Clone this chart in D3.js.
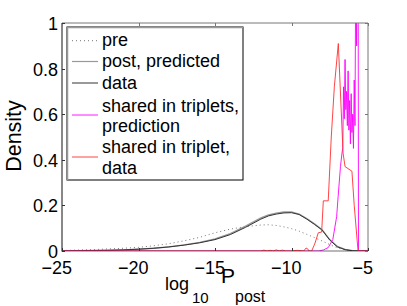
<!DOCTYPE html>
<html><head><meta charset="utf-8">
<script src="https://cdn.jsdelivr.net/npm/d3@7"></script>
<style>body{margin:0;background:#fff}svg{display:block}text{font-family:"Liberation Sans",Arial,sans-serif;fill:#000}</style>
</head><body>
<svg id="c" width="407" height="306"></svg>
<script>
// ---- data ----
const xTicks = [-25, -20, -15, -10, -5];
const yTicks = [0, 0.2, 0.4, 0.6, 0.8, 1];
const legendLabels = [["pre"], ["post, predicted"], ["data"], ["shared in triplets,", "prediction"], ["shared in triplet,", "data"]];

const smoothX = [-25,-24,-23,-22,-21,-20,-19,-18,-17,-16,-15,-14,-13,-12,-11.5,-11,-10.5,-10,-9.5,-9,-8.5,-8,-7.5,-7,-6.5,-6,-5.5,-5];
const preY    = [0.002,0.004,0.006,0.009,0.012,0.016,0.023,0.032,0.045,0.060,0.080,0.096,0.107,0.114,0.115,0.112,0.106,0.098,0.087,0.073,0.059,0.044,0.028,0.014,0.005,0.001,0,0];
const postY   = [0,0.001,0.002,0.003,0.005,0.008,0.012,0.018,0.027,0.038,0.053,0.076,0.109,0.145,0.158,0.166,0.171,0.171,0.162,0.142,0.119,0.093,0.050,0.020,0.007,0.001,0,0];
const dataY   = [0,0.001,0.002,0.003,0.005,0.008,0.012,0.018,0.026,0.036,0.050,0.072,0.104,0.140,0.154,0.162,0.167,0.168,0.160,0.140,0.117,0.092,0.048,0.018,0.006,0.001,0,0];

const redX = [-25,-12,-11.8,-11.6,-11.4,-11.2,-11,-10.8,-10.6,-10.4,-10,-9.6,-9.2,-9.05,-8.95,-8.85,-8.68,-8.46,-8.25,-8.03,-7.92,-7.6,-7.4,-7.2,-6.94,-6.63,-6.5,-6.05,-5.9,-5.65,-5];
const redY = [0,0,0.004,0,0.003,0,0.005,0,0.004,0,0,0.003,0,0.013,0.010,0,0,0.035,0.08,0.083,0.22,0.22,0.50,0.72,0.91,0.43,0.37,0.35,0.20,0,0];

const magX = [-25,-8.2,-7.9,-7.6,-7.3,-7.05,-6.95,-6.8,-6.7,-6.65,-6.6,-6.55,-6.5,-6.45,-6.4,-6.35,-6.3,-6.25,-6.2,-6.15,-6.1,-6.05,-6.0,-5.95,-5.9,-5.85,-5.8,-5.75,-5.72,-5.68,-5.65,-5.62,-5];
const magY = [0,0,0.005,0.015,0.05,0.15,0.24,0.37,0.43,0.45,0.72,0.58,0.84,0.62,0.70,0.55,0.79,0.53,0.66,0.47,0.69,0.52,0.60,0.45,0.75,0.55,1.3,0.9,1.5,1.2,1.6,0,0];

// ---- layout ----
const L = 62, R = 368, T = 23, B = 251;
const x = d3.scaleLinear().domain([-25, -5]).range([L, R]);
const y = d3.scaleLinear().domain([0, 1]).range([B, T]);
const svg = d3.select("#c");

svg.append("defs").append("clipPath").attr("id","clip")
  .append("rect").attr("x",L).attr("y",T).attr("width",R-L).attr("height",B-T);

const line = d3.line().x(d=>x(d[0])).y(d=>y(d[1]));
const g = svg.append("g").attr("clip-path","url(#clip)");
function draw(xs, ys, color, w, dash){
  const p = g.append("path").datum(xs.map((v,i)=>[v,ys[i]]))
    .attr("d", line).attr("fill","none").attr("stroke",color).attr("stroke-width",w);
  if (dash) p.attr("stroke-dasharray", dash);
}
draw(smoothX, preY, "#777", 1, "1,3");
draw(smoothX, postY, "#999", 1.4);
draw(smoothX, dataY, "#333", 1);
draw(magX, magY, "#ff00ff", 0.9);
draw(redX, redY, "#ff3030", 0.9);

// frame
svg.append("line").attr("x1",L).attr("x2",R).attr("y1",T).attr("y2",T).attr("stroke","#777");
svg.append("line").attr("x1",R).attr("x2",R).attr("y1",T).attr("y2",B).attr("stroke","#777");
svg.append("line").attr("x1",L).attr("x2",L).attr("y1",T).attr("y2",B+0.5).attr("stroke","#111");
svg.append("line").attr("x1",L).attr("x2",R).attr("y1",B).attr("y2",B).attr("stroke","#111").attr("stroke-width",0.6);

// ticks
const ax = svg.append("g");
xTicks.forEach(t=>{
  const px = Math.round(x(t))+0.5;
  ax.append("line").attr("x1",px).attr("x2",px).attr("y1",B).attr("y2",B-3).attr("stroke","#333");
  ax.append("line").attr("x1",px).attr("x2",px).attr("y1",T).attr("y2",T+3).attr("stroke","#777");
  const digits = String(Math.abs(t)).length;
  ax.append("text").attr("x", x(t) + digits*5).attr("y", 274).attr("text-anchor","end")
    .attr("font-size",18).text("\u2212" + Math.abs(t));
});
yTicks.forEach(t=>{
  const py = Math.round(y(t))+0.5;
  ax.append("line").attr("x1",L).attr("x2",L+3).attr("y1",py).attr("y2",py).attr("stroke","#333");
  ax.append("line").attr("x1",R).attr("x2",R-3).attr("y1",py).attr("y2",py).attr("stroke","#777");
  ax.append("text").attr("x",58).attr("y",y(t)+7).attr("text-anchor","end")
    .attr("font-size",18).text(d3.format("~g")(t));
});

// axis labels
svg.append("text").attr("transform","translate(20.5,136) rotate(-90)").attr("text-anchor","middle")
  .attr("font-size",21.5).text("Density");
const xl = svg.append("text");
xl.append("tspan").attr("x",165).attr("y",290).attr("font-size",18).text("log");
xl.append("tspan").attr("x",192).attr("y",303).attr("font-size",15).text("10");
xl.append("tspan").attr("x",221).attr("y",283).attr("font-size",21).text("P");
xl.append("tspan").attr("x",235).attr("y",302).attr("font-size",16).text("post");

// legend
const lg = svg.append("g");
lg.append("rect").attr("x",67).attr("y",27).attr("width",176).attr("height",153)
  .attr("fill","#fff").attr("stroke","#000").attr("stroke-width",1);
lg.append("path").attr("d","M67.5,180 L67.5,27.5 L243,27.5").attr("fill","none").attr("stroke","#999").attr("stroke-width",1.5);
const styles = [
  {c:"#777", w:1, d:"1,3"},
  {c:"#999", w:1.2},
  {c:"#333", w:1},
  {c:"#ff00ff", w:0.9},
  {c:"#ff3030", w:0.9}
];
const lineY = [40.7, 61.5, 83, 115, 157];
const baseY = [[45.7],[66.7],[89],[111.5,132],[153.3,174]];
styles.forEach((s,i)=>{
  const l = lg.append("line").attr("x1",72).attr("x2",98).attr("y1",lineY[i]).attr("y2",lineY[i])
    .attr("stroke",s.c).attr("stroke-width",s.w);
  if (s.d) l.attr("stroke-dasharray", s.d);
  legendLabels[i].forEach((txt,j)=>{
    lg.append("text").attr("x",102).attr("y",baseY[i][j]).attr("font-size",18).text(txt);
  });
});
</script>
</body></html>
